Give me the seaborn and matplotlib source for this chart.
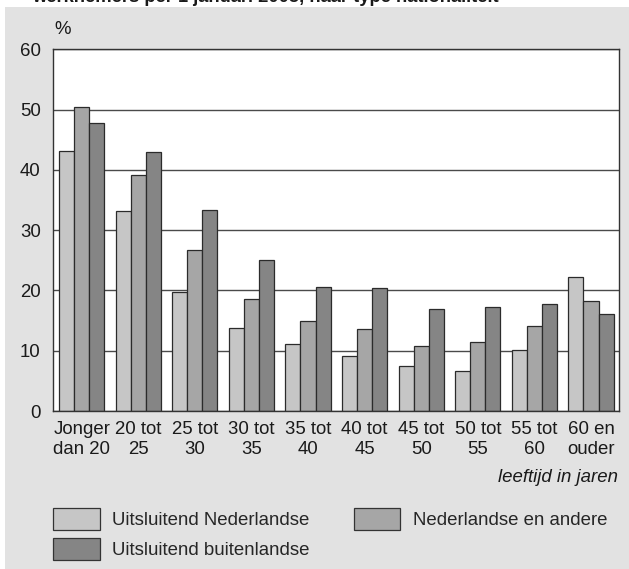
import matplotlib
matplotlib.use("Agg")
import matplotlib.pyplot as plt
from matplotlib.patches import Patch, Rectangle
import pandas as pd
import seaborn as sns

# Age groups (x-axis) and share per nationality type, in %
categories = ["Jonger\ndan 20", "20 tot\n25", "25 tot\n30", "30 tot\n35", "35 tot\n40",
              "40 tot\n45", "45 tot\n50", "50 tot\n55", "55 tot\n60", "60 en\nouder"]
uitsluitend_nl = [43.2, 33.2, 19.7, 13.8, 11.1, 9.1, 7.5, 6.6, 10.1, 22.2]
nl_en_andere = [50.5, 39.2, 26.7, 18.5, 15.0, 13.6, 10.8, 11.4, 14.1, 18.2]
uitsluitend_buitenl = [47.8, 43.0, 33.4, 25.1, 20.5, 20.4, 16.9, 17.3, 17.7, 16.1]

series_names = ["Uitsluitend Nederlandse", "Nederlandse en andere", "Uitsluitend buitenlandse"]
series_values = [uitsluitend_nl, nl_en_andere, uitsluitend_buitenl]
colors = ["#c6c6c6", "#a6a6a6", "#858585"]
y_ticks = [0, 10, 20, 30, 40, 50, 60]

df = pd.DataFrame({
    "leeftijd": [c for _ in series_names for c in categories],
    "reeks": [s for s in series_names for _ in categories],
    "pct": [v for vals in series_values for v in vals],
})

sns.set_style("white")
plt.rcParams["font.family"] = ["Liberation Sans", "DejaVu Sans"]

W, H = 629, 569
fig = plt.figure(figsize=(W / 100, H / 100), dpi=100, facecolor="white")

# grey panel behind the chart
fig.patches.append(Rectangle((5 / W, 0), 1 - 5 / W, 1 - 7 / H, transform=fig.transFigure,
                             facecolor="#e2e2e2", edgecolor="none", zorder=-10))

# heading, running off the top edge of the page
fig.text(32 / W, 1 - 2.5 / H, "werknemers per 1 januari 2005, naar type nationaliteit",
         fontsize=13.2, fontweight="bold", color="#1a1a1a", va="baseline", ha="left")

ax = fig.add_axes([53.3 / W, 1 - 411 / H, (619.3 - 53.3) / W, (411 - 49.3) / H])
ax.set_facecolor("white")

sns.barplot(data=df, x="leeftijd", y="pct", hue="reeks", hue_order=series_names,
            palette=colors, ax=ax, width=0.8, edgecolor="#2b2b2b", linewidth=0.9,
            saturation=1, legend=False, errorbar=None)

ax.set_xlim(-0.5, len(categories) - 0.5)
ax.set_ylim(0, 60)
ax.set_yticks(y_ticks)
ax.set_yticklabels([str(t) for t in y_ticks])
ax.set_xlabel("")
ax.set_ylabel("")
ax.tick_params(axis="both", length=0, labelsize=13.4, colors="#1a1a1a")
ax.tick_params(axis="y", pad=9)
ax.tick_params(axis="x", pad=7)
for lbl in ax.get_xticklabels():
    lbl.set_linespacing(1.26)

ax.yaxis.grid(True, color="#4a4a4a", linewidth=1.0)
ax.xaxis.grid(False)
ax.set_axisbelow(True)
for side in ["left", "right", "top", "bottom"]:
    ax.spines[side].set_visible(True)
    ax.spines[side].set_color("#333333")
    ax.spines[side].set_linewidth(1.0)

# unit label and axis title
fig.text(54 / W, 1 - 30 / H, "%", fontsize=13.4, color="#1a1a1a", va="center", ha="left")
fig.text(618 / W, 1 - 478 / H, "leeftijd in jaren", fontsize=13.4, style="italic",
         color="#1a1a1a", va="center", ha="right")

handles = [Patch(facecolor=c, edgecolor="#333333", linewidth=0.9, label=n)
           for c, n in zip(colors, series_names)]
fig.legend(handles=[handles[0], handles[2], handles[1]], ncol=2, loc="upper left",
           bbox_to_anchor=(53.3 / W, 1 - 508 / H), frameon=False, borderpad=0,
           borderaxespad=0, handlelength=2.5, handleheight=1.47, handletextpad=0.66,
           columnspacing=2.37, labelspacing=0.41, fontsize=13.4)

fig.savefig("out.png", dpi=100, facecolor=fig.get_facecolor())
